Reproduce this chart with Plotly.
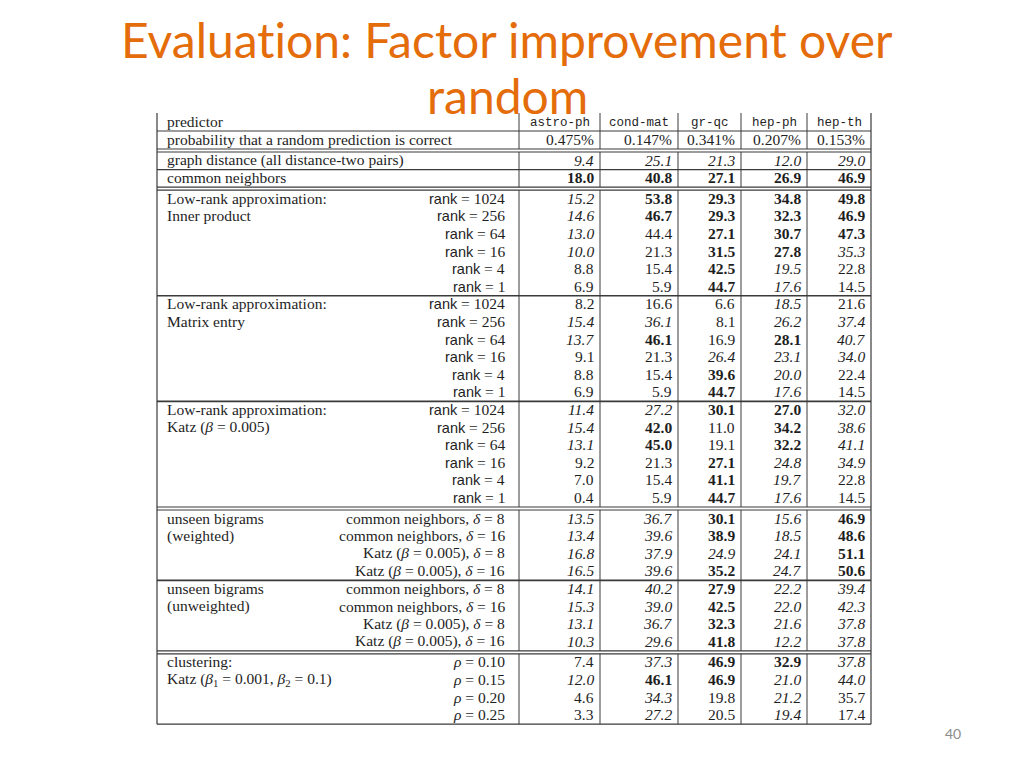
import plotly.graph_objects as go

# ---------------- data ----------------
datasets = ["astro-ph", "cond-mat", "gr-qc", "hep-ph", "hep-th"]
random_prob = ["0.475%", "0.147%", "0.341%", "0.207%", "0.153%"]

baseline_labels = ["graph distance (all distance-two pairs)", "common neighbors"]
baseline_values = [[9.4, 25.1, 21.3, 12.0, 29.0],
                   [18.0, 40.8, 27.1, 26.9, 46.9]]
baseline_styles = ["iiiii", "bbbbb"]

ranks = [1024, 256, 64, 16, 4, 1]
inner_product_values = [[15.2, 53.8, 29.3, 34.8, 49.8],
                        [14.6, 46.7, 29.3, 32.3, 46.9],
                        [13.0, 44.4, 27.1, 30.7, 47.3],
                        [10.0, 21.3, 31.5, 27.8, 35.3],
                        [8.8, 15.4, 42.5, 19.5, 22.8],
                        [6.9, 5.9, 44.7, 17.6, 14.5]]
inner_product_styles = ["ibbbb", "ibbbb", "inbbb", "inbbi", "nnbin", "nnbin"]

matrix_entry_values = [[8.2, 16.6, 6.6, 18.5, 21.6],
                       [15.4, 36.1, 8.1, 26.2, 37.4],
                       [13.7, 46.1, 16.9, 28.1, 40.7],
                       [9.1, 21.3, 26.4, 23.1, 34.0],
                       [8.8, 15.4, 39.6, 20.0, 22.4],
                       [6.9, 5.9, 44.7, 17.6, 14.5]]
matrix_entry_styles = ["nnnin", "iinii", "ibnbi", "nniii", "nnbin", "nnbin"]

katz_lowrank_values = [[11.4, 27.2, 30.1, 27.0, 32.0],
                       [15.4, 42.0, 11.0, 34.2, 38.6],
                       [13.1, 45.0, 19.1, 32.2, 41.1],
                       [9.2, 21.3, 27.1, 24.8, 34.9],
                       [7.0, 15.4, 41.1, 19.7, 22.8],
                       [0.4, 5.9, 44.7, 17.6, 14.5]]
katz_lowrank_styles = ["iibbi", "ibnbi", "ibnbi", "nnbii", "nnbin", "nnbin"]

bigram_params = ["common neighbors, <i>δ</i> = 8",
                 "common neighbors, <i>δ</i> = 16",
                 "Katz (<i>β</i> = 0.005), <i>δ</i> = 8",
                 "Katz (<i>β</i> = 0.005), <i>δ</i> = 16"]
weighted_values = [[13.5, 36.7, 30.1, 15.6, 46.9],
                   [13.4, 39.6, 38.9, 18.5, 48.6],
                   [16.8, 37.9, 24.9, 24.1, 51.1],
                   [16.5, 39.6, 35.2, 24.7, 50.6]]
weighted_styles = ["iibib", "iibib", "iiiib", "iibib"]
unweighted_values = [[14.1, 40.2, 27.9, 22.2, 39.4],
                     [15.3, 39.0, 42.5, 22.0, 42.3],
                     [13.1, 36.7, 32.3, 21.6, 37.8],
                     [10.3, 29.6, 41.8, 12.2, 37.8]]
unweighted_styles = ["iibii", "iibii", "iibii", "iibii"]

rhos = ["0.10", "0.15", "0.20", "0.25"]
clustering_values = [[7.4, 37.3, 46.9, 32.9, 37.8],
                     [12.0, 46.1, 46.9, 21.0, 44.0],
                     [4.6, 34.3, 19.8, 21.2, 35.7],
                     [3.3, 27.2, 20.5, 19.4, 17.4]]
clustering_styles = ["nibbi", "ibbii", "ninin", "ninin"]

title_line1 = "Evaluat\u200cion: Factor improvement over"
title_line2 = "random"
page_number = "40"

# ---------------- layout constants ----------------
W, H = 1024, 768
X_LEFT, X_RIGHT = 157, 871
COL_EDGES = [519, 600, 678, 741, 807, 871]
LABEL_X = 165
PARAM_X = 507
TOP = 113
HEAD_H = 18.0
ROW_H = 17.6
GAP = 3.0
DY = -0.8
FS = 15.5
SERIF = "Liberation Serif"
SANS = "Liberation Sans"
MONO = "Liberation Mono"
TXT = "#1e1e1e"
LINE = "#3a3a3a"
ORANGE = "#E46C0A"

rank_param = lambda r: f'<span style="font-family:{SANS};font-size:14.5px">rank</span> = {r}'
rho_param = lambda r: f"<i>ρ</i> = {r}"

sections = [
    {"titles": baseline_labels, "params": None, "values": baseline_values,
     "styles": baseline_styles, "after": "double", "per_row_titles": True},
    {"titles": ["Low-rank approximation:", "Inner product"],
     "params": [rank_param(r) for r in ranks],
     "values": inner_product_values, "styles": inner_product_styles, "after": "single"},
    {"titles": ["Low-rank approximation:", "Matrix entry"],
     "params": [rank_param(r) for r in ranks],
     "values": matrix_entry_values, "styles": matrix_entry_styles, "after": "single"},
    {"titles": ["Low-rank approximation:", "Katz (<i>β</i> = 0.005)"],
     "params": [rank_param(r) for r in ranks],
     "values": katz_lowrank_values, "styles": katz_lowrank_styles, "after": "double"},
    {"titles": ["unseen bigrams", "(weighted)"], "params": bigram_params,
     "values": weighted_values, "styles": weighted_styles, "after": "single"},
    {"titles": ["unseen bigrams", "(unweighted)"], "params": bigram_params,
     "values": unweighted_values, "styles": unweighted_styles, "after": "double"},
    {"titles": ["clustering:", "Katz (<i>β</i><sub>1</sub> = 0.001, <i>β</i><sub>2</sub> = 0.1)"],
     "params": [rho_param(r) for r in rhos],
     "values": clustering_values, "styles": clustering_styles, "after": "end"},
]

fig = go.Figure()
fig.add_trace(go.Scatter(x=[0, W], y=[0, H], mode="markers",
                         marker=dict(opacity=0), hoverinfo="skip", showlegend=False))

annotations = []
shapes = []


def txt(x, y, s, anchor="left", size=FS, family=SERIF, color=TXT):
    annotations.append(dict(x=x, y=y, xref="x", yref="y", text=s, showarrow=False,
                            xanchor=anchor, yanchor="middle",
                            font=dict(family=family, size=size, color=color)))


def hline(y, width=1.2):
    shapes.append(dict(type="line", xref="x", yref="y", x0=X_LEFT, x1=X_RIGHT,
                       y0=y, y1=y, line=dict(color=LINE, width=width)))


def vlines(y0, y1, width=1.0):
    for xe in COL_EDGES[:-1]:
        shapes.append(dict(type="line", xref="x", yref="y", x0=xe, x1=xe,
                           y0=y0, y1=y1, line=dict(color=LINE, width=width)))


def fmt(v, st):
    s = f"{v:.1f}"
    if st == "b":
        return f"<b>{s}</b>"
    if st == "i":
        return f"<i>{s}</i>"
    return s


# header row
y = TOP
txt(LABEL_X, y + HEAD_H / 2 + DY, "predictor")
for j, d in enumerate(datasets):
    cx = (COL_EDGES[j] + COL_EDGES[j + 1]) / 2
    txt(cx, y + HEAD_H / 2 + 1, d, anchor="center", size=12.5, family=MONO)
vlines(y, y + HEAD_H)
y += HEAD_H
hline(y)
txt(LABEL_X, y + HEAD_H / 2 + DY, "probability that a random prediction is correct")
for j, p in enumerate(random_prob):
    txt(COL_EDGES[j + 1] - 4, y + HEAD_H / 2 + DY, p, anchor="right")
vlines(y, y + HEAD_H)
y += HEAD_H
hline(y)
y += GAP
hline(y)

for sec in sections:
    n = len(sec["values"])
    y0 = y
    for i in range(n):
        cy = y + ROW_H * (i + 0.5) + DY
        if sec.get("per_row_titles"):
            txt(LABEL_X, cy, sec["titles"][i])
            if i > 0:
                hline(y + ROW_H * i)
        else:
            if i < len(sec["titles"]):
                txt(LABEL_X, cy, sec["titles"][i])
            txt(PARAM_X, cy, sec["params"][i], anchor="right")
        for j in range(5):
            txt(COL_EDGES[j + 1] - 4, cy, fmt(sec["values"][i][j], sec["styles"][i][j]),
                anchor="right")
    y = y0 + ROW_H * n
    vlines(y0, y)
    hline(y, width=1.6 if sec["after"] == "single" else 1.2)
    if sec["after"] == "double":
        y += GAP
        hline(y)

# outer edges
for xe in (X_LEFT, X_RIGHT):
    shapes.append(dict(type="line", xref="x", yref="y", x0=xe, x1=xe,
                       y0=TOP, y1=y, line=dict(color=LINE, width=1.2)))

# title & page number
txt(507, 39, title_line1, anchor="center", size=48, family="Lato", color=ORANGE)
txt(507, 95, title_line2, anchor="center", size=48, family="Lato", color=ORANGE)
txt(953, 733, page_number, anchor="center", size=14, family="Lato", color="#8c8c8c")

fig.update_layout(
    width=W, height=H, margin=dict(l=0, r=0, t=0, b=0),
    paper_bgcolor="white", plot_bgcolor="white",
    xaxis=dict(range=[0, W], visible=False, fixedrange=True),
    yaxis=dict(range=[H, 0], visible=False, fixedrange=True),
    showlegend=False, hovermode=False,
    annotations=annotations, shapes=shapes,
)

fig.write_html("out.html", config={"displayModeBar": False, "staticPlot": True},
               post_script="document.body.style.margin='0';document.body.style.overflow='hidden';")
